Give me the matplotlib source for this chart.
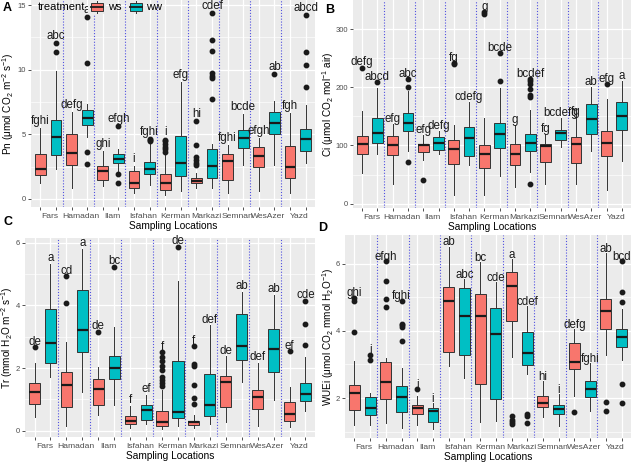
import matplotlib
matplotlib.use("Agg")
import matplotlib.pyplot as plt
from matplotlib.patches import Rectangle
from matplotlib.lines import Line2D

plt.rcParams['font.family'] = ['Liberation Sans', 'DejaVu Sans']
plt.rcParams['mathtext.fontset'] = 'custom'
plt.rcParams['mathtext.rm'] = 'Liberation Sans'
plt.rcParams['mathtext.it'] = 'Liberation Sans:italic'
plt.rcParams['mathtext.bf'] = 'Liberation Sans:bold'

locations = ['Fars', 'Hamadan', 'Ilam', 'Isfahan', 'Kerman', 'Markazi',
             'Semnan', 'WesAzer', 'Yazd']
treatments = ['ws', 'ww']
colors = {'ws': '#F8766D', 'ww': '#00BFC4'}

# box stats per location: whisker low, q1, median, q3, whisker high
pn_ws = [[1.2, 1.83, 2.35, 3.45, 5.5], [0.85, 2.6, 3.55, 5.05, 6.75],
         [1.0, 1.5, 2.15, 2.55, 3.7], [0.45, 0.85, 1.25, 2.2, 2.55],
         [0.3, 0.72, 1.2, 1.9, 3.5], [0.85, 1.25, 1.42, 1.63, 2.0],
         [0.45, 1.45, 2.95, 3.45, 4.2], [0.6, 2.5, 3.3, 4.0, 4.75],
         [0.45, 1.65, 2.5, 4.1, 6.65]]
pn_ww = [[2.3, 3.4, 4.8, 6.15, 9.9], [4.8, 5.75, 6.25, 6.9, 7.35],
         [2.2, 2.75, 3.1, 3.45, 3.9], [1.05, 1.9, 2.3, 2.85, 4.3],
         [0.65, 1.75, 2.8, 4.85, 9.05], [0.85, 1.6, 2.55, 3.85, 4.25],
         [2.6, 3.95, 4.7, 5.35, 6.55], [2.65, 5.05, 5.9, 6.75, 7.55],
         [2.8, 3.75, 4.65, 5.45, 7.3]]
pn_ws_out = [[], [], [], [], [3.65, 3.85, 4.05, 4.25, 4.45, 4.6],
             [2.65, 2.8, 3.05, 3.25, 4.15, 6.0], [], [], []]
pn_ww_out = [[11.4, 12.1], [2.7, 3.6, 10.55, 14.05], [1.25, 1.95, 5.65],
             [4.45, 4.55, 4.65], [], [7.7, 9.4, 9.55, 9.75, 11.45, 12.3, 14.4],
             [], [9.7], [8.65, 10.4, 11.4, 14.25]]
pn_ws_let = ['fghi', 'defg', 'ghi', 'i', 'i', 'hi', 'fghi', 'efgh', 'fgh']
pn_ww_let = ['abc', 'a', 'efgh', 'fghi', 'efg', 'cdef', 'bcde', 'ab', 'abcd']

ci_ws = [[52, 85, 103, 117, 160], [33, 83, 100, 117, 137],
         [75, 88, 100, 103, 118], [15, 69, 94, 109, 135],
         [15, 62, 86, 100, 147], [28, 67, 86, 103, 135],
         [33, 71, 99, 103, 120], [34, 70, 102, 114, 149],
         [23, 82, 104, 125, 180]]
ci_ww = [[86, 105, 122, 147, 198], [90, 125, 139, 155, 194],
         [85, 92.5, 104, 115, 125], [67, 82, 112.6, 131, 174],
         [48, 95, 119, 139, 198], [54, 91, 104, 120, 161],
         [97, 109, 121, 126, 147], [91, 119, 145, 171, 200],
         [73, 126, 150, 175, 211]]
ci_ws_out = [[234], [], [40], [240, 242], [326, 329], [], [], [], [205]]
ci_ww_out = [[209], [71, 200, 214], [], [], [210, 259],
             [34, 183, 187, 197, 205, 210, 214], [], [], []]
ci_ws_let = ['defg', 'efg', 'efg', 'fg', 'g', 'g', 'fg', 'fg', 'efg']
ci_ww_let = ['abcd', 'abc', 'defg', 'cdefg', 'bcde', 'bcdef', 'bcdefg', 'ab', 'a']

tr_ws = [[0.44, 0.85, 1.25, 1.53, 2.15], [0.14, 0.76, 1.45, 1.88, 2.83],
         [0.51, 0.82, 1.34, 1.64, 2.03], [0.1, 0.2, 0.31, 0.46, 0.8],
         [0.05, 0.14, 0.28, 0.64, 1.3], [0.1, 0.17, 0.27, 0.32, 0.51],
         [0.27, 0.76, 1.57, 1.75, 2.37], [0.16, 0.69, 1.07, 1.29, 2.16],
         [0.11, 0.32, 0.53, 0.91, 1.41]]
tr_ww = [[1.73, 2.15, 2.79, 3.89, 5.33], [1.22, 2.51, 3.23, 4.5, 5.81],
         [0.83, 1.66, 2.0, 2.39, 3.32], [0.22, 0.35, 0.65, 0.83, 1.15],
         [0.16, 0.4, 0.6, 2.21, 4.77], [0.21, 0.46, 0.83, 1.82, 3.36],
         [1.54, 2.27, 2.69, 3.72, 4.43], [0.99, 1.86, 2.6, 3.24, 4.34],
         [0.62, 0.94, 1.17, 1.52, 2.35]]
tr_ws_out = [[2.66], [4.07, 4.93], [3.16], [],
             [1.44, 1.52, 1.63, 1.73, 1.95, 2.07, 2.21, 2.35, 2.5],
             [0.86, 1.04, 1.47, 2.05, 2.14, 2.69], [], [], [2.53]]
tr_ww_out = [[], [], [5.23], [], [5.86], [], [], [], [2.74, 3.4, 4.15]]
tr_ws_let = ['de', 'cd', 'de', 'f', 'f', 'f', 'de', 'def', 'ef']
tr_ww_let = ['a', 'a', 'bc', 'ef', 'de', 'def', 'ab', 'ab', 'cde']

wue_ws = [[1.21, 1.65, 2.14, 2.39, 3.09], [1.26, 1.96, 2.47, 3.06, 3.19],
          [1.19, 1.52, 1.7, 1.8, 2.05], [2.94, 3.37, 4.89, 5.29, 6.5],
          [1.28, 2.43, 4.45, 5.09, 6.04], [3.21, 4.3, 5.34, 5.74, 6.13],
          [1.43, 1.72, 1.85, 2.05, 2.5], [2.07, 2.87, 3.06, 3.63, 4.05],
          [3.29, 4.05, 4.6, 4.94, 6.31]]
wue_ww = [[1.21, 1.5, 1.69, 2.02, 2.15], [1.11, 1.57, 2.03, 2.35, 2.88],
          [1.08, 1.29, 1.6, 1.7, 1.85], [2.59, 3.27, 4.43, 5.27, 5.53],
          [1.31, 1.98, 3.91, 4.69, 5.45], [2.72, 2.99, 3.34, 3.96, 4.74],
          [1.16, 1.52, 1.67, 1.78, 2.12], [1.6, 2.02, 2.27, 2.5, 3.04],
          [3.14, 3.51, 3.83, 4.05, 4.65]]
wue_ws_out = [[3.97, 4.89, 4.99], [4.7, 4.94, 5.49, 6.08], [2.27], [], [],
              [1.23, 1.28, 1.36, 1.46], [], [1.57], [1.62, 1.88]]
wue_ww_out = [[3.14, 3.29], [3.7, 4.11, 4.16, 4.2, 4.9], [], [], [],
              [1.26, 1.46, 1.52], [], [], [1.85, 2.43, 4.87, 5.15, 6.08]]
wue_ws_let = ['ghi', 'efgh', 'i', 'ab', 'bc', 'a', 'hi', 'defg', 'ab']
wue_ww_let = ['i', 'fghi', 'i', 'abc', 'cde', 'cdef', 'i', 'fghi', 'bcd']

W, H = 633, 462
fig = plt.figure(figsize=(W / 100, H / 100), dpi=100)


def px_axes(l, t, r, b):
    return fig.add_axes([l / W, 1 - b / H, (r - l) / W, (b - t) / H])


def draw_panel(ax, series, outs, lets, ylim, yticks, yminor, ylabel, off, label_x):
    ax.set_facecolor('#EBEBEB')
    for s in ax.spines.values():
        s.set_visible(False)
    n = len(locations)
    for k, tr in enumerate(treatments):
        stats = []
        for i in range(n):
            lo, q1, med, q3, hi = series[k][i]
            stats.append(dict(whislo=lo, q1=q1, med=med, q3=q3, whishi=hi,
                              fliers=outs[k][i]))
        pos = [2 * i + 1 + k for i in range(n)]
        ax.bxp(stats, positions=pos, widths=0.7, patch_artist=True,
               showcaps=False, manage_ticks=False,
               boxprops=dict(facecolor=colors[tr], edgecolor='#333333', linewidth=0.7),
               medianprops=dict(color='#1A1A1A', linewidth=1.6),
               whiskerprops=dict(color='#333333', linewidth=0.7),
               flierprops=dict(marker='o', markerfacecolor='#1A1A1A',
                               markeredgecolor='#1A1A1A', markersize=3.2,
                               linestyle='none'))
        for i in range(n):
            top = max([series[k][i][4]] + outs[k][i])
            ax.text(pos[i], top + off, lets[k][i], ha='center', va='center',
                    fontsize=8.3, color='#1A1A1A', zorder=5)
    for i in range(n - 1):
        ax.axvline(2 * i + 2.45, color='#5050E0', linestyle=(0, (1, 1.6)),
                   linewidth=0.8, zorder=1.5)
    ax.set_xlim(0.4, 2 * n + 0.6)
    ax.set_ylim(*ylim)
    ax.set_xticks(range(1, 2 * n + 1))
    ax.set_xticklabels([])
    ax.set_xticks([2 * i + 1.62 for i in range(n)], locations, minor=True)
    ax.set_yticks(yticks)
    ax.set_yticks(yminor, minor=True)
    ax.tick_params(axis='both', which='major', length=2, width=0.6,
                   color='#333333', labelsize=5.5, labelcolor='#4D4D4D', pad=1.5)
    ax.tick_params(axis='x', which='minor', length=0, labelsize=6.1,
                   labelcolor='#4D4D4D', pad=4)
    ax.tick_params(axis='y', which='minor', length=0)
    ax.set_axisbelow(True)
    ax.grid(which='major', color='white', linewidth=0.9)
    ax.grid(which='minor', axis='y', color='white', linewidth=0.45)
    ax.set_xlabel('Sampling Locations', fontsize=7.3, labelpad=1)
    ax.set_ylabel(ylabel, fontsize=7.2, va='center')
    ax.yaxis.set_label_coords(label_x, 0.5)


ax_a = px_axes(31, 0, 315, 207)
draw_panel(ax_a, [pn_ws, pn_ww], [pn_ws_out, pn_ww_out], [pn_ws_let, pn_ww_let],
           (-0.62, 15.4), [0, 5, 10, 15], [2.5, 7.5, 12.5],
           'Pn (μmol CO$_2$ m$^{-2}$ s$^{-1}$)', 0.55, -0.08)

ax_b = px_axes(353, 0, 631, 208)
draw_panel(ax_b, [ci_ws, ci_ww], [ci_ws_out, ci_ww_out], [ci_ws_let, ci_ww_let],
           (-7.4, 350), [0, 100, 200, 300], [50, 150, 250],
           'Ci (μmol CO$_2$ mol$^{-1}$ air)', 9, -0.09)

ax_c = px_axes(25, 238, 315, 437)
draw_panel(ax_c, [tr_ws, tr_ww], [tr_ws_out, tr_ww_out], [tr_ws_let, tr_ww_let],
           (-0.2, 6.15), [0, 2, 4, 6], [1, 3, 5],
           'Tr (mmol H$_2$O m$^{-2}$ s$^{-1}$)', 0.18, -0.062)

ax_d = px_axes(345, 235, 631, 438)
draw_panel(ax_d, [wue_ws, wue_ww], [wue_ws_out, wue_ww_out], [wue_ws_let, wue_ww_let],
           (0.81, 6.85), [2, 4, 6], [1, 3, 5],
           'WUEi (μmol CO$_2$ mmol H$_2$O$^{-1}$)', 0.13, -0.06)

# panel tags
for tag, x, y in [('A', 3, 8), ('B', 325, 10), ('C', 3, 222), ('D', 318, 228)]:
    fig.text(x / W, 1 - y / H, tag, fontsize=9, fontweight='bold',
             ha='left', va='center')

# legend drawn over panel A
fig.text(38 / W, 1 - 7 / H, 'treatment', fontsize=8, ha='left', va='center', zorder=6)
for tr, kx, tx in [('ws', 88, 108), ('ww', 127, 146)]:
    fig.add_artist(Rectangle((kx / W, 1 - 14 / H), 18 / W, 14 / H,
                             transform=fig.transFigure, facecolor='#EBEBEB',
                             edgecolor='none', zorder=5))
    fig.add_artist(Rectangle(((kx + 3) / W, 1 - 11 / H), 12 / W, 8 / H,
                             transform=fig.transFigure, facecolor=colors[tr],
                             edgecolor='#333333', linewidth=0.7, zorder=6))
    cx = (kx + 9) / W
    fig.add_artist(Line2D([cx, cx], [1 - 1 / H, 1 - 3 / H], transform=fig.transFigure,
                          color='#333333', linewidth=0.7, zorder=6))
    fig.add_artist(Line2D([cx, cx], [1 - 11 / H, 1 - 13 / H], transform=fig.transFigure,
                          color='#333333', linewidth=0.7, zorder=6))
    fig.add_artist(Line2D([(kx + 3) / W, (kx + 15) / W], [1 - 7 / H, 1 - 7 / H],
                          transform=fig.transFigure, color='#1A1A1A',
                          linewidth=1.3, zorder=7))
    fig.text(tx / W, 1 - 7 / H, tr, fontsize=8, ha='left', va='center', zorder=6)

fig.savefig('out.png', dpi=100)
